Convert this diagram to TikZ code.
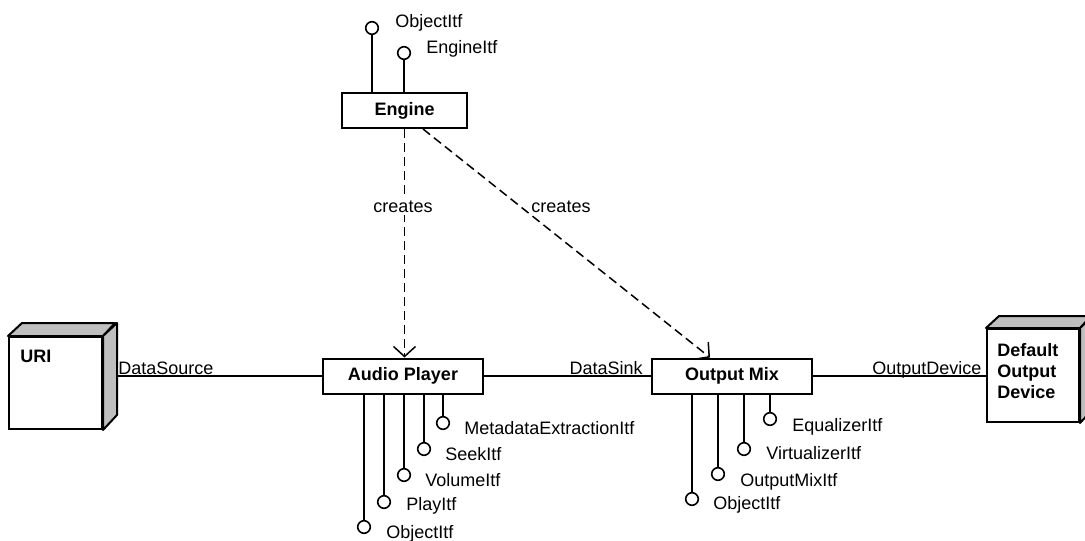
\documentclass[tikz,border=0pt]{standalone}
\usepackage{fontspec}
\setmainfont{Liberation Sans}
\usetikzlibrary{arrows.meta}
\begin{document}
\begin{tikzpicture}[x=0.5pt,y=-0.5pt,
  font=\fontsize{9}{10.5}\selectfont,
  box/.style={draw, line width=1pt, fill=white, minimum height=17.5pt, inner sep=0pt,
              font=\fontsize{9}{10.5}\selectfont\bfseries},
  cubefront/.style={draw, line width=1pt, fill=white, inner sep=0pt},
  cubeface/.style={draw, line width=1pt, fill=gray!50, line join=round},
  lolli/.style={circle, draw, line width=0.8pt, fill=white, minimum size=6.3pt, inner sep=0pt},
  stem/.style={line width=1pt},
  itf/.style={inner sep=0pt, anchor=base west},
  link/.style={line width=0.8pt},
  dep/.style={line width=0.75pt, dash pattern=on 4.5pt off 2.5pt,
              -{Straight Barb[length=5pt,width=11pt,line width=0.75pt]}},
  deplabel/.style={fill=white, inner sep=1pt}
]
\useasboundingbox (0,0) rectangle (1085,540);

% ---------- components ----------
\node[box, minimum width=62.5pt] (engine) at (404.5,110.5) {Engine};
\node[box, minimum width=80pt]   (ap)     at (403,376)     {Audio Player};
\node[box, minimum width=80pt]   (om)     at (732,376)     {Output Mix};

% ---------- URI node (3D box) ----------
\node[cubefront, minimum width=46.5pt, minimum height=46pt] (uri) at (55.5,383) {};
\draw[cubeface] (uri.north west) -- ++(14,-13) -- ++(93,0) -- (uri.north east) -- cycle;
\draw[cubeface] (uri.north east) -- ++(14,-13) -- ++(0,92) -- (uri.south east) -- cycle;
\node[inner sep=0pt, anchor=base west, font=\fontsize{9}{10.5}\selectfont\bfseries] (uriT) at (20,362) {URI};
\coordinate (uriR) at ([xshift=7pt]uri.east);

% ---------- Default Output Device node (3D box) ----------
\node[cubefront, minimum width=46pt, minimum height=46.5pt] (dev) at (1033,375.5) {};
\draw[cubeface] (dev.north west) -- ++(13,-12) -- ++(92,0) -- (dev.north east) -- cycle;
\draw[cubeface] (dev.north east) -- ++(13,-12) -- ++(0,93) -- (dev.south east) -- cycle;
\node[inner sep=0pt, anchor=north west, align=left, font=\fontsize{9}{10.5}\selectfont\bfseries]
  (devT) at (997,343) {Default\\Output\\Device};

% ---------- connections ----------
\draw[link] (uriR |- ap.west) -- (ap.west);
\node[itf] (dsrc) at (118,374) {DataSource};
\draw[link] (ap.east) -- (om.west);
\node[inner sep=0pt, anchor=base east] (dsink) at (643,374) {DataSink};
\draw[link] (om.east) -- (om.east -| dev.west);
\node[itf] (odev) at (872,374) {OutputDevice};

% ---------- creation dependencies ----------
\draw[dep] (engine.south) -- (engine.south |- ap.north);
\node[deplabel] (cr1) at (403,207) {creates};
\coordinate (dstart) at ([xshift=9.25pt]engine.south);
\coordinate (dend) at ([xshift=29.5pt]om.north west);
\draw[dep] (dstart) -- (dend);
\node[deplabel] (cr2) at (561,207) {creates};

% ---------- Engine interfaces ----------
\node[lolli] (eObj) at (372,28) {};
\node[lolli] (eEng) at (404,53) {};
\draw[stem] (eObj) -- (eObj |- engine.north);
\draw[stem] (eEng) -- (eEng |- engine.north);
\node[itf] (eObjL) at (395,28) {ObjectItf};
\node[itf] (eEngL) at (426,54) {EngineItf};

% ---------- Audio Player interfaces ----------
\node[lolli] (apObj)  at (364,527) {};
\node[lolli] (apPlay) at (384,502) {};
\node[lolli] (apVol)  at (404,475) {};
\node[lolli] (apSeek) at (424,449) {};
\node[lolli] (apMeta) at (443,423) {};
\foreach \n in {apObj,apPlay,apVol,apSeek,apMeta}
  \draw[stem] (\n) -- (\n |- ap.south);
\node[itf] (apObjL)  at (386,538) {ObjectItf};
\node[itf] (apPlayL) at (406,510) {PlayItf};
\node[itf] (apVolL)  at (425,486) {VolumeItf};
\node[itf] (apSeekL) at (445,460) {SeekItf};
\node[itf] (apMetaL) at (464,434) {MetadataExtractionItf};

% ---------- Output Mix interfaces ----------
\node[lolli] (omObj) at (692,499) {};
\node[lolli] (omMix) at (718,474) {};
\node[lolli] (omVir) at (744,449) {};
\node[lolli] (omEq)  at (770,419) {};
\foreach \n in {omObj,omMix,omVir,omEq}
  \draw[stem] (\n) -- (\n |- om.south);
\node[itf] (omObjL) at (713,509) {ObjectItf};
\node[itf] (omMixL) at (740,486) {OutputMixItf};
\node[itf] (omVirL) at (766,459) {VirtualizerItf};
\node[itf] (omEqL)  at (792,431) {EqualizerItf};
\end{tikzpicture}
\end{document}
